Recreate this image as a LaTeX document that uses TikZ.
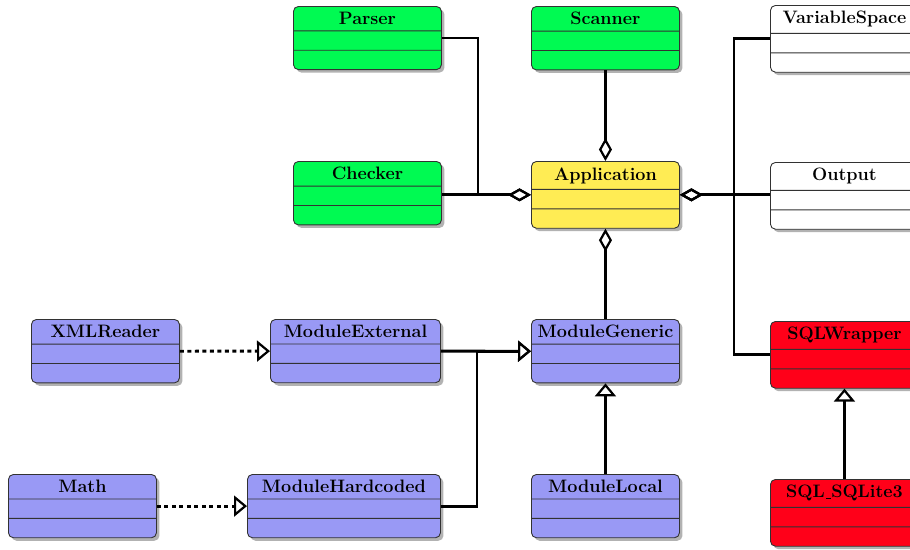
\documentclass[tikz,border=0pt]{standalone}
\usetikzlibrary{shapes.multipart,shadows,arrows.meta}

\definecolor{clsgreen}{RGB}{0,250,82}
\definecolor{clsyellow}{RGB}{255,236,84}
\definecolor{clsblue}{RGB}{153,153,245}
\definecolor{clsred}{RGB}{255,0,25}
\definecolor{clswhite}{RGB}{255,255,255}
\definecolor{frame}{RGB}{50,50,50}

% short, low underscore as in classic Computer Modern
\newcommand\lowbar{\kern.06em\rule[-0.6pt]{0.3em}{0.9pt}}

\tikzset{
  classbox/.style={
    rectangle split, rectangle split parts=3,
    rectangle split empty part height=7.5pt,
    rectangle split empty part depth=0pt,
    draw=frame, line width=0.9pt, rounded corners=5pt,
    anchor=north west, inner xsep=4pt, inner ysep=5.5pt,
    minimum width=148pt,
    font=\fontsize{18}{21}\selectfont\bfseries,
    drop shadow={shadow xshift=3pt, shadow yshift=-3pt, fill=black, opacity=0.3}
  },
  link/.style={line width=2.8pt, draw=black},
  aggr/.style={link, -{Diamond[open, length=23pt, width=13pt, line width=2.2pt]}},
  inherit/.style={link, -{Triangle[open, length=13pt, width=21pt, line width=2.2pt]}},
  realize/.style={inherit, dash pattern=on 4pt off 3.5pt}
}

\begin{document}
\begin{tikzpicture}[x=1pt,y=-1pt]
  \useasboundingbox (0,0) rectangle (910,549);
  \clip (0,0) rectangle (910,549);

  % top row
  \node[classbox, fill=clsgreen]  (parser)   at (293,6)   {Parser};
  \node[classbox, fill=clsgreen]  (scanner)  at (531,6)   {Scanner};
  \node[classbox, fill=clswhite]  (varspace) at (770,5)   {VariableSpace};

  % second row
  \node[classbox, fill=clsgreen]  (checker)  at (293,161) {Checker};
  \node[classbox, fill=clsyellow] (app)      at (531,161) {Application};
  \node[classbox, fill=clswhite]  (output)   at (770,162) {Output};

  % third row
  \node[classbox, fill=clsblue]   (xml)      at (31,319)  {XMLReader};
  \node[classbox, fill=clsblue, minimum width=170pt] (mext) at (270,319) {ModuleExternal};
  \node[classbox, fill=clsblue]   (mgen)     at (531,319) {ModuleGeneric};
  \node[classbox, fill=clsred]    (sqlw)     at (770,321) {SQLWrapper};

  % bottom row
  \node[classbox, fill=clsblue]   (math)     at (8,474)   {Math};
  \node[classbox, fill=clsblue, minimum width=193pt] (mhard) at (247,474) {ModuleHardcoded};
  \node[classbox, fill=clsblue]   (mloc)     at (531,474) {ModuleLocal};
  \node[classbox, fill=clsred]    (sqlite)   at (770,479) {SQL\lowbar SQLite3};

  % aggregations into Application
  \draw[aggr] (parser.east) -- ++(36,0) |- (app.west);
  \draw[aggr] (checker.east |- app.west) -- (app.west);
  \draw[aggr] (scanner.south) -- (app.north);
  \draw[aggr] (mgen.north) -- (app.south);
  \draw[aggr] (varspace.west) -- ++(-36,0) |- (app.east);
  \draw[aggr] (sqlw.west) -- ++(-36,0) |- (app.east);
  \draw[aggr] (output.west |- app.east) -- (app.east);

  % realizations
  \draw[realize] (xml.east) -- (mext.west);
  \draw[realize] (math.east) -- (mhard.west);

  % generalizations
  \draw[inherit] (mext.east) -- (mgen.west);
  \draw[inherit] (mhard.east) -- ++(36,0) |- (mgen.west);
  \draw[inherit] (mloc.north) -- (mgen.south);
  \draw[inherit] (sqlite.north) -- (sqlw.south);
\end{tikzpicture}
\end{document}
